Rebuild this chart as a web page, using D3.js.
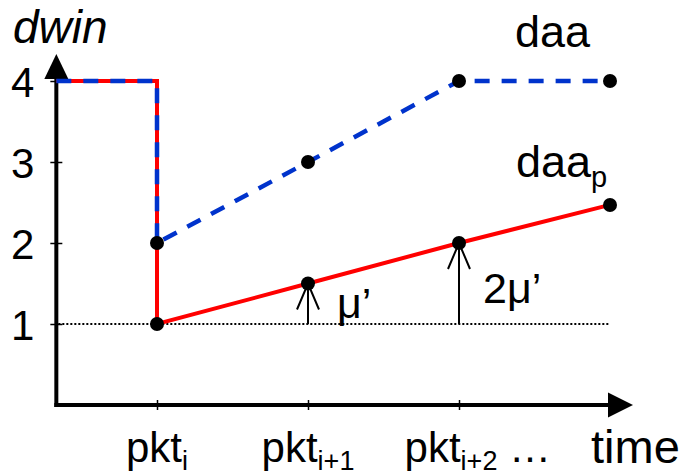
<!DOCTYPE html>
<html>
<head>
<meta charset="utf-8">
<script src="https://cdn.jsdelivr.net/npm/d3@7"></script>
<style>
  html, body { margin: 0; padding: 0; background: #fff; }
  svg { display: block; font-family: "Liberation Sans", Arial, sans-serif; }
</style>
</head>
<body>
<svg id="chart" width="687" height="476"></svg>
<script>
// Packet arrival instants (index on the time axis)
const packetSlots = [1, 2, 3];
const packetSubs = ["i", "i+1", "i+2"];
const yTickValues = [1, 2, 3, 4];

// Window start on the time axis (axis origin)
const tStart = 1 / 3;

// daa: drops to 2 at pkt_i, then climbs back to 4
const daaT = [tStart, 1, 1, 2, 3, 4];
const daaW = [4, 4, 2, 3, 4, 4];
const daaDots = [false, false, true, true, true, true];

// daa_p: drops to 1 at pkt_i, then grows by mu' per packet
const daapT = [tStart, 1, 1, 2, 3, 4];
const daapW = [4, 4, 1, 1.5, 2, 2.47];
const daapDots = [false, false, true, true, true, true];

// mu' increments measured from the baseline dwin = 1
const incT = [2, 3];
const incTop = [1.5, 2];
const incLabels = ["\u03bc\u2019", "2\u03bc\u2019"];
const baseline = 1;

const svg = d3.select("#chart");
const x = d3.scaleLinear().domain([1, 4]).range([157, 610]);
const y = d3.scaleLinear().domain([0, 4]).range([405, 81]);

const x0 = x(tStart), y0 = y(0);
const RED = "#ff0000", BLUE = "#0033cc";

// ---- axes ----
const yAxis = d3.axisLeft(y).tickValues(yTickValues).tickSize(6).tickPadding(0).tickFormat(d3.format("d"));
const gy = svg.append("g").attr("transform", `translate(${x0},0)`).call(yAxis);
gy.select(".domain").remove();
gy.selectAll(".tick line").attr("x1", -6).attr("x2", 6).attr("stroke", "#000").attr("stroke-width", 1.5);
gy.selectAll(".tick text")
  .attr("x", -22).attr("dy", "0.36em")
  .attr("font-size", 42).attr("fill", "#000")
  .attr("font-family", "Liberation Sans, Arial, sans-serif");

const xAxis = d3.axisBottom(x).tickValues(packetSlots).tickSize(5).tickFormat("");
const gx = svg.append("g").attr("transform", `translate(0,${y0})`).call(xAxis);
gx.select(".domain").remove();
gx.selectAll(".tick line").attr("y1", -5).attr("y2", 5).attr("stroke", "#000").attr("stroke-width", 1.5);

// axis lines with filled arrowheads
const yTip = y(4) - 27, xTip = x(4) + 23;
svg.append("line").attr("x1", x0).attr("y1", y0 + 2).attr("x2", x0).attr("y2", yTip + 20)
  .attr("stroke", "#000").attr("stroke-width", 4);
svg.append("line").attr("x1", x0 - 2).attr("y1", y0).attr("x2", xTip - 20).attr("y2", y0)
  .attr("stroke", "#000").attr("stroke-width", 4);
svg.append("path")
  .attr("d", `M${x0},${yTip} L${x0 + 12},${yTip + 25} L${x0 - 12},${yTip + 25} Z`)
  .attr("fill", "#000");
svg.append("path")
  .attr("d", `M${xTip},${y0} L${xTip - 25},${y0 - 12.5} L${xTip - 25},${y0 + 12.5} Z`)
  .attr("fill", "#000");

// baseline dwin = 1 (dotted)
svg.append("line")
  .attr("x1", x0 + 2).attr("x2", x(4)).attr("y1", y(baseline)).attr("y2", y(baseline))
  .attr("stroke", "#000").attr("stroke-width", 2).attr("stroke-dasharray", "2,2");

// ---- series lines ----
const line = d3.line().x(d => x(d[0])).y(d => y(d[1]));
const daapPts = daapT.map((t, i) => [t, daapW[i]]);
const daaPts = daaT.map((t, i) => [t, daaW[i]]);

svg.append("path").datum(daapPts).attr("d", line)
  .attr("fill", "none").attr("stroke", RED).attr("stroke-width", 4);
svg.append("path").datum(daaPts).attr("d", line)
  .attr("fill", "none").attr("stroke", BLUE).attr("stroke-width", 4.5)
  .attr("stroke-dasharray", "15,12");

// ---- increment arrows ----
incT.forEach((t, i) => {
  const px = x(t), top = y(incTop[i]), bot = y(baseline);
  svg.append("line").attr("x1", px).attr("x2", px).attr("y1", top).attr("y2", bot)
    .attr("stroke", "#000").attr("stroke-width", 2);
  svg.append("path")
    .attr("d", `M${px - 11},${top + 26} L${px},${top} L${px + 11},${top + 26}`)
    .attr("fill", "none").attr("stroke", "#000").attr("stroke-width", 2);
});

// ---- dots ----
const dots = daaPts.filter((d, i) => daaDots[i]).concat(daapPts.filter((d, i) => daapDots[i]));
svg.selectAll("circle.pt").data(dots).join("circle")
  .attr("class", "pt").attr("cx", d => x(d[0])).attr("cy", d => y(d[1])).attr("r", 7)
  .attr("fill", "#000");

// ---- text ----
svg.append("text").attr("x", 13).attr("y", 43)
  .attr("font-size", 46).attr("font-style", "italic").text("dwin");

svg.append("text").attr("x", 515).attr("y", 47).attr("font-size", 45).text("daa");

const dp = svg.append("text").attr("x", 516).attr("y", 177).attr("font-size", 45);
dp.append("tspan").text("daa");
dp.append("tspan").attr("font-size", 29).attr("dy", 10).text("p");

svg.append("text").attr("x", 591).attr("y", 463).attr("font-size", 47).text("time");

incT.forEach((t, i) => {
  svg.append("text")
    .attr("x", x(t) + (i === 0 ? 29 : 24))
    .attr("y", i === 0 ? 318 : 303)
    .attr("font-size", 43).text(incLabels[i]);
});

// packet labels under the time axis
packetSlots.forEach((t, i) => {
  const tx = svg.append("text").attr("x", 0).attr("y", 462).attr("font-size", 42);
  tx.append("tspan").text("pkt");
  tx.append("tspan").attr("font-size", 27).attr("dy", 8).text(packetSubs[i]);
  const w = tx.node().getBBox().width;
  tx.attr("x", x(t) - w / 2 - (i === 2 ? 8 : 0));
  if (i === packetSlots.length - 1) {
    tx.append("tspan").attr("dy", -8).attr("font-size", 42).text(" \u2026");
  }
});
</script>
</body>
</html>
